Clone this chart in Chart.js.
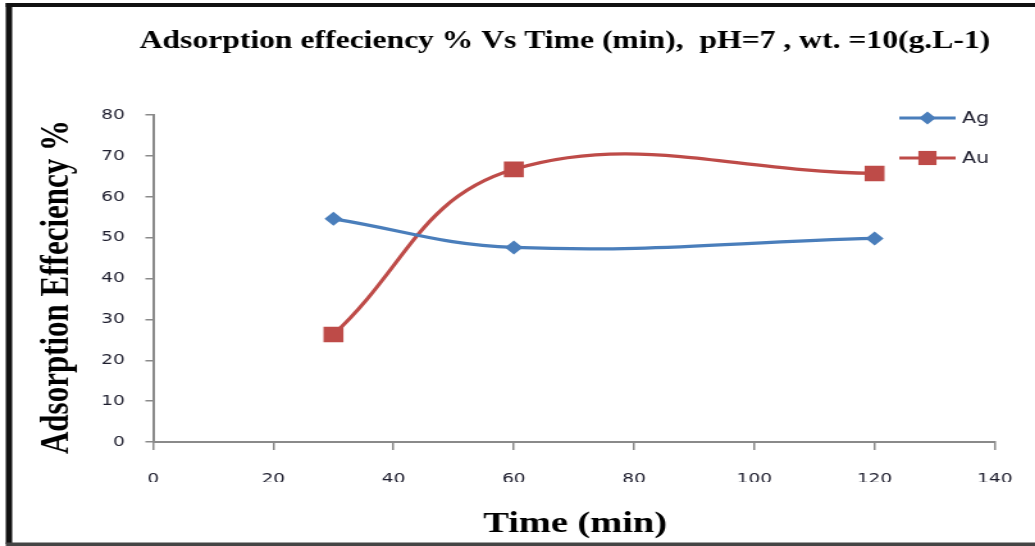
<!DOCTYPE html>
<html>
<head>
<meta charset="utf-8">
<script src="https://cdn.jsdelivr.net/npm/chart.js@4/dist/chart.umd.min.js"></script>
<style>
  html, body { margin: 0; padding: 0; background: #fff; overflow: hidden; }
  #wrap { width: 1035px; height: 546px; overflow: hidden; }
  /* the sheet is drawn at 808px and widened to the page width */
  #chart { display: block; width: 808px; height: 546px; transform: scaleX(1.281); transform-origin: 0 0; }
</style>
</head>
<body>
<div id="wrap"><canvas id="chart" width="808" height="546"></canvas></div>
<script>
// Contact time (min)
const times = [30, 60, 120];
// Adsorption efficiency (%)
const agValues = [54.6, 47.6, 49.8];
const auValues = [26.3, 66.7, 65.7];
const seriesNames = ['Ag', 'Au'];
const seriesColors = ['#4a7ebb', '#be4b48'];
const xTicks = [0, 20, 40, 60, 80, 100, 120, 140];
const yTicks = [0, 10, 20, 30, 40, 50, 60, 70, 80];

const chartTitle = 'Adsorption effeciency % Vs Time (min),  pH=7 , wt. =10(g.L-1)';
const xTitle = 'Time (min)';
const yTitle = 'Adsorption Effeciency %';

const toPoints = vals => times.map((t, i) => ({ x: t, y: vals[i] }));

function drawMarker(ctx, style, x, y, r, color) {
  ctx.save();
  ctx.fillStyle = color;
  ctx.beginPath();
  if (style === 'rectRot') {
    ctx.moveTo(x - r, y); ctx.lineTo(x, y - r); ctx.lineTo(x + r, y); ctx.lineTo(x, y + r);
  } else {
    const s = r * Math.SQRT1_2;
    ctx.rect(x - s, y - s, 2 * s, 2 * s);
  }
  ctx.closePath();
  ctx.fill();
  ctx.restore();
}

// white sheet with heavy frame on the left, top and bottom
const frame = {
  id: 'frame',
  beforeDraw(chart) {
    const ctx = chart.ctx;
    ctx.save();
    ctx.fillStyle = '#fff';
    ctx.fillRect(0, 0, chart.width, chart.height);
    ctx.fillStyle = '#111';
    ctx.fillRect(4.5, 3, chart.width, 4);
    ctx.fillRect(4.5, 3, 5, 541);
    ctx.fillStyle = '#444';
    ctx.fillRect(4.5, 542.5, chart.width, 3.5);
    ctx.restore();
  }
};

// titles and the line-with-marker legend
const captions = {
  id: 'captions',
  afterDraw(chart) {
    const ctx = chart.ctx;
    ctx.save();
    ctx.fillStyle = '#000';
    ctx.textAlign = 'center';
    ctx.textBaseline = 'alphabetic';
    ctx.font = 'bold 24.7px "Liberation Serif", "Times New Roman", serif';
    ctx.fillText(chartTitle, 441, 48);

    ctx.font = 'bold 30px "Liberation Serif", "Times New Roman", serif';
    ctx.fillText(xTitle, 449, 532);

    ctx.save();
    ctx.translate(53, 287);
    ctx.rotate(-Math.PI / 2);
    ctx.font = 'bold 31px "Liberation Serif", "Times New Roman", serif';
    ctx.fillText(yTitle, 0, 0);
    ctx.restore();

    // legend
    const rows = [118, 158];
    chart.data.datasets.forEach((ds, i) => {
      const y = rows[i];
      ctx.strokeStyle = ds.borderColor;
      ctx.lineWidth = 3;
      ctx.beginPath();
      ctx.moveTo(702, y);
      ctx.lineTo(746, y);
      ctx.stroke();
      drawMarker(ctx, ds.pointStyle, 724, y, ds.pointStyle === 'rectRot' ? 6.5 : 10, ds.backgroundColor);
      ctx.fillStyle = '#1e1e2e';
      ctx.textAlign = 'left';
      ctx.textBaseline = 'middle';
      ctx.font = '16px "DejaVu Sans", Verdana, sans-serif';
      ctx.fillText(ds.label, 751, y + 1);
    });
    ctx.restore();
  }
};

const axisGray = '#8a8a8a';
const tickFont = { family: '"DejaVu Sans", Verdana, sans-serif', size: 14.5 };

new Chart(document.getElementById('chart'), {
  type: 'line',
  data: {
    datasets: [
      {
        label: seriesNames[0],
        data: toPoints(agValues),
        borderColor: seriesColors[0],
        backgroundColor: seriesColors[0],
        borderWidth: 3.2,
        tension: 0.4,
        pointStyle: 'rectRot',
        pointRadius: 7,
        pointBorderWidth: 0,
        pointBackgroundColor: seriesColors[0]
      },
      {
        label: seriesNames[1],
        data: toPoints(auValues),
        borderColor: seriesColors[1],
        backgroundColor: seriesColors[1],
        borderWidth: 3.2,
        tension: 0.4,
        pointStyle: 'rect',
        pointRadius: 11,
        pointBorderWidth: 0,
        pointBackgroundColor: seriesColors[1]
      }
    ]
  },
  options: {
    responsive: false,
    animation: false,
    devicePixelRatio: 1,
    layout: { padding: { left: 0, right: 31.4, top: 115, bottom: 64 } },
    plugins: {
      legend: { display: false },
      title: { display: false },
      tooltip: { enabled: false }
    },
    scales: {
      x: {
        type: 'linear',
        min: 0,
        max: 140,
        afterFit(scale) {
          scale.height = 40;
          scale.paddingLeft = 0;
          scale.paddingRight = 0;
        },
        afterBuildTicks(scale) { scale.ticks = xTicks.map(v => ({ value: v })); },
        ticks: { font: tickFont, color: '#1e1e2e', padding: 21, maxRotation: 0 },
        grid: { drawOnChartArea: false, drawTicks: true, tickLength: 8, color: axisGray, lineWidth: 1.5 },
        border: { display: true, color: axisGray, width: 2 }
      },
      y: {
        type: 'linear',
        min: 0,
        max: 80,
        afterFit(scale) {
          scale.width = 119.5;
          scale.paddingTop = 0;
          scale.paddingBottom = 0;
        },
        afterBuildTicks(scale) { scale.ticks = yTicks.map(v => ({ value: v })); },
        ticks: { font: tickFont, color: '#1e1e2e', padding: 16 },
        grid: { drawOnChartArea: false, drawTicks: true, tickLength: 6, color: axisGray, lineWidth: 1.5 },
        border: { display: true, color: axisGray, width: 2 }
      }
    }
  },
  plugins: [frame, captions]
});
</script>
</body>
</html>
